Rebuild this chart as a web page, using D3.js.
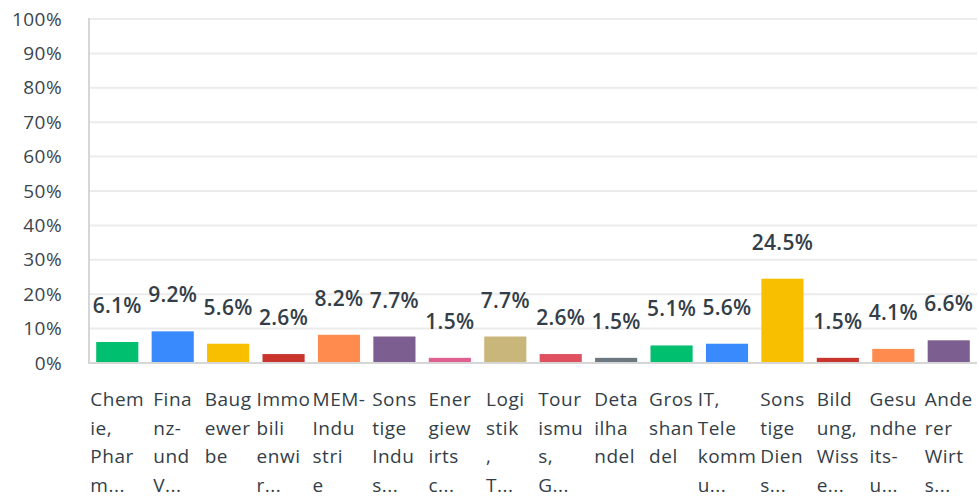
<!DOCTYPE html>
<html>
<head>
<meta charset="utf-8">
<script src="https://cdn.jsdelivr.net/npm/d3@7"></script>
<style>
  html, body { margin: 0; padding: 0; background: #fff; }
  svg { display: block; font-family: "Open Sans", sans-serif; }
</style>
</head>
<body>
<svg id="chart"></svg>
<script>
// categories as shown (already wrapped / truncated like the original)
const categoryLines = [
    ["Chem", "ie,", "Phar", "m..."],
    ["Fina", "nz-", "und", "V..."],
    ["Baug", "ewer", "be"],
    ["Immo", "bili", "enwi", "r..."],
    ["MEM-", "Indu", "stri", "e"],
    ["Sons", "tige", "Indu", "s..."],
    ["Ener", "giew", "irts", "c..."],
    ["Logi", "stik", ",", "T..."],
    ["Tour", "ismu", "s,", "G..."],
    ["Deta", "ilha", "ndel"],
    ["Gros", "shan", "del"],
    ["IT,", "Tele", "komm", "u..."],
    ["Sons", "tige", "Dien", "s..."],
    ["Bild", "ung,", "Wiss", "e..."],
    ["Gesu", "ndhe", "its-", "u..."],
    ["Ande", "rer", "Wirt", "s..."]
];
const values = [6.1, 9.2, 5.6, 2.6, 8.2, 7.7, 1.5, 7.7, 2.6, 1.5, 5.1, 5.6, 24.5, 1.5, 4.1, 6.6];
const palette = ["#00bf6f", "#398bfd", "#f8be00", "#c9352d", "#ff8b4f", "#7d5e90", "#df5f91", "#c8b67a", "#e0515f", "#6b787f"];
const yTicks = [0, 10, 20, 30, 40, 50, 60, 70, 80, 90, 100];

const W = 979, H = 497;
const margin = { top: 19, right: 2, bottom: 134, left: 89 };
const width = W - margin.left - margin.right,
      height = H - margin.top - margin.bottom;

const svg = d3.select("#chart").attr("width", W).attr("height", H);
const g = svg.append("g").attr("transform", `translate(${margin.left},${margin.top})`);

const x = d3.scaleBand()
    .domain(d3.range(values.length))
    .range([0, width])
    .paddingInner(0.24)
    .paddingOuter(0.13);

const y = d3.scaleLinear().domain([0, 100]).range([height, 0]);

// gridlines
g.append("g")
    .selectAll("line")
    .data(yTicks.filter(d => d > 0))
    .join("line")
    .attr("x1", 0).attr("x2", width)
    .attr("y1", d => y(d)).attr("y2", d => y(d))
    .style("stroke", "#ebebeb")
    .style("stroke-width", 2);

// y axis labels
const yAxis = g.append("g")
    .call(d3.axisLeft(y).tickValues(yTicks).tickFormat(d => d + "%").tickSize(0).tickPadding(27));
yAxis.select(".domain").remove();
yAxis.selectAll("text")
    .style("font-family", "'Open Sans', sans-serif")
    .style("font-size", "19px")
    .style("letter-spacing", "0.4px")
    .style("fill", "#3b454e");

// bars
g.selectAll("rect.bar")
    .data(values)
    .join("rect")
    .attr("class", "bar")
    .attr("x", (d, i) => x(i))
    .attr("width", x.bandwidth())
    .attr("y", d => y(d))
    .attr("height", d => height - y(d))
    .style("fill", (d, i) => palette[i % palette.length]);

// value labels
g.selectAll("text.val")
    .data(values)
    .join("text")
    .attr("class", "val")
    .attr("x", (d, i) => x(i) + x.bandwidth() / 2)
    .attr("y", d => y(d) - 29)
    .attr("text-anchor", "middle")
    .style("font-size", "21px")
    .style("font-weight", 600)
    .style("letter-spacing", "0.3px")
    .style("fill", "#333e48")
    .text(d => d.toFixed(1) + "%");

// axis lines
g.append("line")
    .attr("x1", 0).attr("x2", 0).attr("y1", -1).attr("y2", height + 1)
    .style("stroke", "#d6d6d6").style("stroke-width", 2);
g.append("line")
    .attr("x1", 0).attr("x2", width).attr("y1", height).attr("y2", height)
    .style("stroke", "#d6d6d6").style("stroke-width", 2);

// category labels: block centred on band, lines left aligned
const catG = g.append("g").attr("transform", `translate(0,${height})`);
categoryLines.forEach((lines, i) => {
    const t = catG.append("text")
        .style("font-size", "19px")
        .style("letter-spacing", "0.5px")
        .style("fill", "#333e48");
    lines.forEach((ln, j) => {
        t.append("tspan").attr("x", 0).attr("y", 43 + j * 28.5).text(ln);
    });
    let maxW = 0;
    t.selectAll("tspan").each(function() { maxW = Math.max(maxW, this.getComputedTextLength()); });
    const cx = x(i) + x.bandwidth() / 2;
    t.selectAll("tspan").attr("x", cx - maxW / 2);
});
</script>
</body>
</html>
